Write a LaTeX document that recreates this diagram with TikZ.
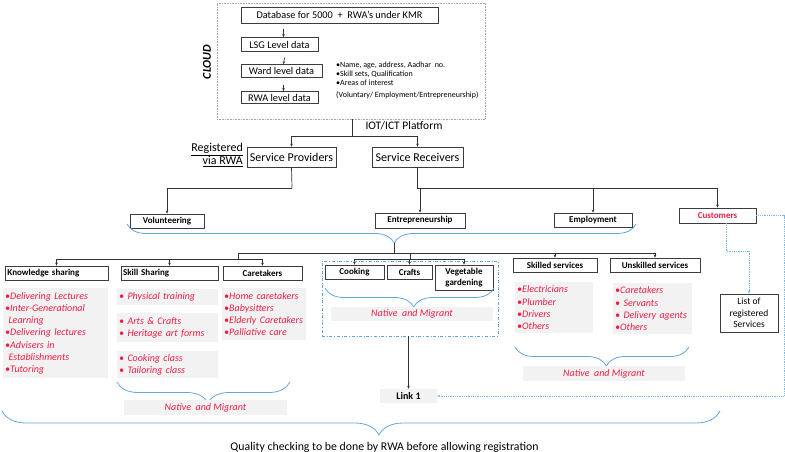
\documentclass[tikz,border=0pt]{standalone}
\usepackage{fontspec}
\setmainfont{Carlito}
\usetikzlibrary{arrows.meta,decorations.pathreplacing,calc}
\definecolor{redtxt}{RGB}{235,30,70}
\definecolor{bluel}{RGB}{100,165,225}
\definecolor{bluedot}{RGB}{120,185,235}
\definecolor{grayfill}{RGB}{242,242,242}
\definecolor{boxline}{RGB}{60,60,60}
\begin{document}
\begin{tikzpicture}[x=1pt,y=-1pt,
 box/.style={draw=boxline, line width=0.7pt, inner sep=0pt, align=center},
 hbox/.style={box, font=\fontsize{9}{10}\selectfont\bfseries},
 dbfont/.style={font=\fontsize{10.3}{12}\selectfont},
 conn/.style={draw=black!80, line width=0.7pt},
 arr/.style={conn, -{Stealth[length=3pt,width=2.6pt]}},
 gbox/.style={fill=grayfill, inner xsep=2pt, inner ysep=0pt, align=left, anchor=north west, font=\fontsize{10}{12.2}\selectfont\itshape, text=redtxt},
 nm/.style={fill=grayfill, inner sep=0pt, font=\fontsize{10}{11}\selectfont\itshape, text=redtxt},
 brc/.style={draw=bluel, line width=0.8pt, decorate, decoration={brace, mirror, amplitude=#1, aspect=0.525}},
 dotarr/.style={draw=bluedot, densely dotted, line width=0.8pt, -{Stealth[length=3pt,width=2.6pt]}},
]
\useasboundingbox (0,0) rectangle (785,452);

% ---- cloud ----
\node[draw=black!35, densely dotted, line width=0.6pt, minimum width=268pt, minimum height=116pt, inner sep=0pt] (cloud) at (351,61) {};
\node[rotate=90, font=\fontsize{12}{14}\selectfont\bfseries\itshape] (cl) at (207,62) {CLOUD};
\node[box, dbfont, minimum width=197pt, minimum height=16pt] (db) at (339.5,15) {Database for 5000 \ + \ RWA’s under KMR};
\node[box, dbfont, minimum width=77pt, minimum height=14pt] (lsg) at (279.5,44.5) {LSG Level data};
\node[box, dbfont, minimum width=81pt, minimum height=13pt] (ward) at (281.5,71) {Ward level data};
\node[box, dbfont, minimum width=77pt, minimum height=12pt] (rwa) at (279.5,97.5) {RWA level data};
\draw[arr, shorten <=6pt] ([xshift=4pt]lsg.north |- db.south) -- ([xshift=4pt]lsg.north);
\draw[arr, shorten <=6pt] ([xshift=4pt]ward.north |- lsg.south) -- ([xshift=2pt]ward.north);
\draw[arr, shorten <=7pt] ([xshift=4pt]rwa.north |- ward.south) -- ([xshift=4pt]rwa.north);
\node[anchor=north west, inner sep=0pt, align=left, font=\fontsize{8}{9}\selectfont] (info) at (336,62)
 {•Name, age, address, Aadhar \ no.\\ •Skill sets, Qualification\\ •Areas of interest\\[2.5pt] (Voluntary/ Employment/Entrepreneurship)};

% ---- platform ----
\coordinate (iotj) at (352,136);
\node[font=\fontsize{11.5}{13}\selectfont] (iot) at (404,126) {IOT/ICT Platform};
\node[box, font=\fontsize{12}{14}\selectfont, minimum width=89pt, minimum height=20pt] (sp) at (291.5,157) {Service Providers};
\node[box, font=\fontsize{12}{14}\selectfont, minimum width=91pt, minimum height=20pt] (sr) at (417.5,157) {Service Receivers};
\draw[conn] (cloud.south -| iotj) -- (iotj);
\draw[arr] (iotj) -| (sp.north);
\draw[arr] (iotj) -| (sr.north);
\node[align=right, anchor=east, font=\fontsize{12}{12.5}\selectfont, inner sep=0pt] (reg) at (243,155) {\underline{Registered}\\\underline{via RWA}};

% ---- level 2 ----
\node[hbox, minimum width=74pt, minimum height=14pt] (vol) at (167,221) {Volunteering};
\node[hbox, minimum width=90pt, minimum height=15pt] (ent) at (420,220.5) {Entrepreneurship};
\node[hbox, minimum width=78pt, minimum height=14pt] (emp) at (593,220) {Employment};
\node[hbox, minimum width=77pt, minimum height=15pt, text=redtxt] (cust) at (717.5,215.5) {Customers};
\coordinate (b1) at (292,188);
\coordinate (b2) at (417.5,188);
\draw[conn] (sp.south) -- (b1);
\draw[arr] (b1) -| (vol.north);
\draw[conn] (sr.south) -- (b2) -- (cust.north |- b2);
\draw[arr] (ent.north |- b2) -- (ent.north);
\draw[arr] (emp.north |- b2) -- (emp.north);
\draw[arr] (cust.north |- b2) -- (cust.north);

% ---- brace to level 3 ----
\draw[brc=19] (127,224) -- (636,224);
\coordinate (t1) at (394,243);
\coordinate (bl) at (238,253);
\coordinate (br) at (655,253);
\draw[conn] (t1) -- (t1 |- bl);
\draw[conn] (bl) -- (br);

% ---- level 3 boxes ----
\node[hbox, minimum width=103pt, minimum height=14pt, text width=98pt, align=left] (ks) at (56.5,273) {Knowledge sharing};
\node[hbox, minimum width=97pt, minimum height=14pt, text width=93pt, align=left] (ss) at (169.5,273) {Skill Sharing};
\node[hbox, minimum width=79pt, minimum height=14pt] (ct) at (262.5,273) {Caretakers};
\node[hbox, minimum width=59pt, minimum height=14pt] (cook) at (354.5,272) {Cooking};
\node[hbox, minimum width=45pt, minimum height=14pt] (crafts) at (409.5,272) {Crafts};
\node[hbox, minimum width=58pt, minimum height=25pt, font=\fontsize{9}{11}\selectfont\bfseries] (veg) at (464,277.5) {Vegetable\\gardening};
\node[hbox, minimum width=84pt, minimum height=14pt] (sk) at (555,265) {Skilled services};
\node[hbox, minimum width=90pt, minimum height=14pt] (us) at (655,265) {Unskilled services};

\coordinate (lb) at (238,259);
\draw[conn] (bl) -- (lb);
\draw[conn] (ks.north |- lb) -- (ct.north |- lb);
\draw[arr] (ks.north |- lb) -- (ks.north);
\draw[arr] (ss.north |- lb) -- (ss.north);
\draw[arr] (ct.north |- lb) -- (ct.north);

\coordinate (rb) at (410,259);
\draw[conn] (rb |- bl) -- (rb);
\draw[conn] (cook.north |- rb) -- (veg.north |- rb);
\draw[arr] (cook.north |- rb) -- (cook.north);
\draw[arr] (crafts.north |- rb) -- (crafts.north);
\draw[arr] (veg.north |- rb) -- (veg.north);

\draw[arr] (sk.north |- bl) -- (sk.north);
\draw[arr] (br) -- (us.north);

% ---- volunteering lists ----
\node[gbox, text width=101pt, minimum height=90pt] (kl) at (3,288)
 {•Delivering Lectures\\•Inter-Generational\\\ Learning\\•Delivering lectures\\•Advisers in\\\ Establishments\\•Tutoring};
\node[gbox, text width=97pt, minimum height=16pt] (sl1) at (117,289) {• Physical training};
\node[gbox, text width=97pt, minimum height=29pt] (sl2) at (117,313) {• Arts \& Crafts\\• Heritage art forms};
\node[gbox, text width=97pt, minimum height=27pt] (sl3) at (117,351) {• Cooking class\\• Tailoring class};
\node[gbox, text width=80pt, minimum height=52pt] (cl2) at (222,288) {•Home caretakers\\•Babysitters\\•Elderly Caretakers\\•Palliative care};
\draw[brc=21] (117,382) -- (290,382);
\node[nm, minimum width=163pt, minimum height=15pt] (nm0) at (205.5,407.5) {Native\ \ and Migrant};

% ---- entrepreneurship ----
\node[draw=bluel, dash dot, line width=0.8pt, minimum width=176pt, minimum height=75pt, inner sep=0pt] (dbox) at (410,298.5) {};
\draw[brc=19] (325,288) -- (494,288);
\node[nm, minimum width=162pt, minimum height=14pt] (nm1) at (412,314) {Native\ \ and Migrant};
\node[fill=grayfill, font=\fontsize{10}{11}\selectfont\bfseries, minimum width=57pt, minimum height=14pt, inner sep=0pt] (link) at (408.5,396) {Link 1};
\draw[arr] (dbox.south -| link.north) -- (link.north);

% ---- employment ----
\node[gbox, text width=74pt, minimum height=51pt] (skl) at (515,282) {•Electricians\\•Plumber\\•Drivers\\•Others};
\node[gbox, text width=75pt, minimum height=51pt] (usl) at (613,283) {•Caretakers\\• Servants\\• Delivery agents\\•Others};
\draw[brc=19] (515,347) -- (689,347);
\node[nm, minimum width=162pt, minimum height=15pt] (nm2) at (604,373.5) {Native\ \ and Migrant};

% ---- customers ----
\node[box, minimum width=58pt, minimum height=38pt, font=\fontsize{9.5}{11.5}\selectfont] (list) at (749,313) {List of\\registered\\Services};
\coordinate (cr) at (784,215.5);
\draw[dotarr] (cust.east) -- (cr) |- (link.east);
\draw[dotarr] ([xshift=8.5pt]cust.south) -- ++(0,28) -| (list.north);

% ---- quality ----
\draw[brc=24] (2,411) -- (720,411);
\node[font=\fontsize{11.8}{13}\selectfont] (qc) at (384.5,447) {Quality checking to be done by RWA before allowing registration};
\end{tikzpicture}
\end{document}
